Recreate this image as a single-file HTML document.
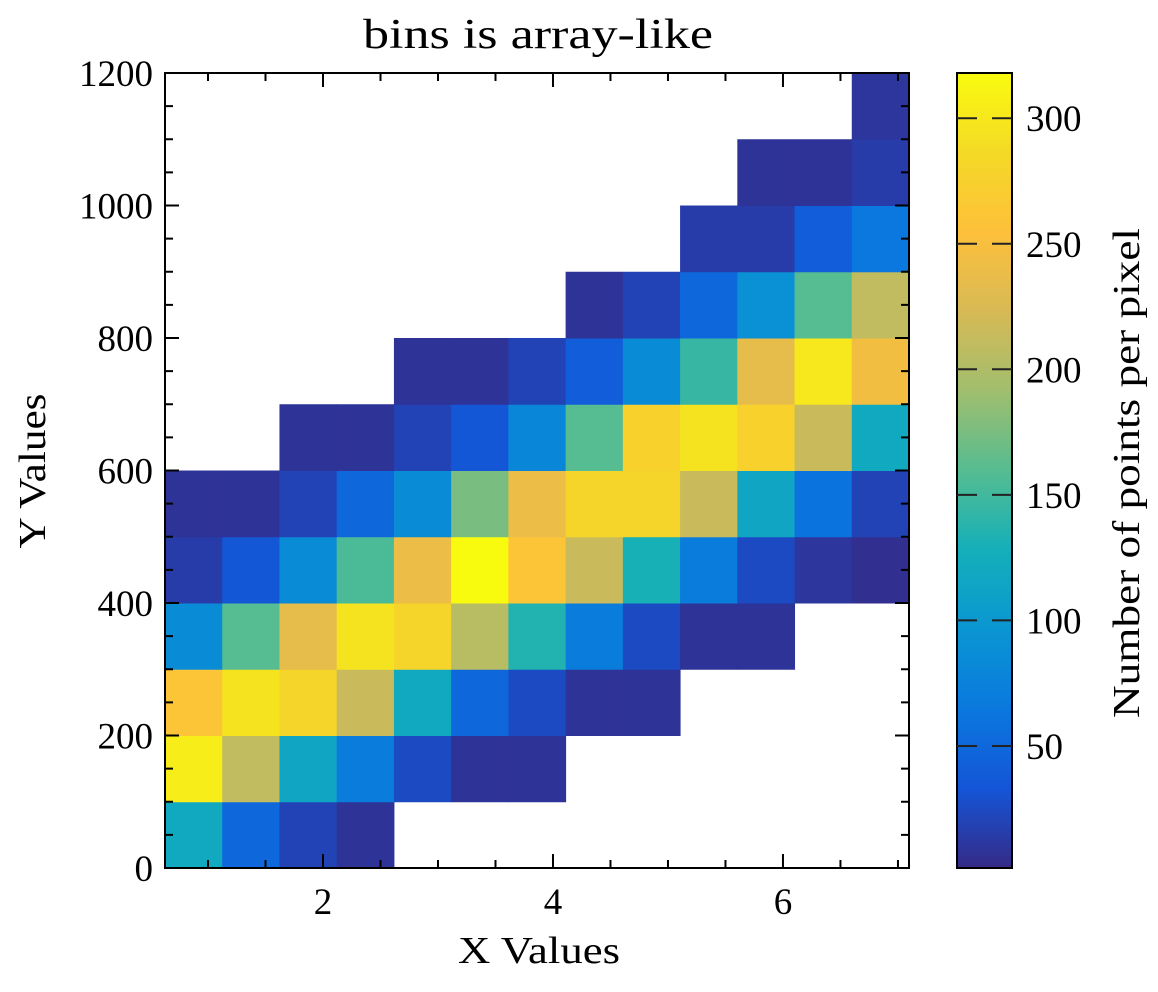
<!DOCTYPE html>
<html><head><meta charset="utf-8"><style>
html,body{margin:0;padding:0;background:#fff;}
svg text{font-family:"Liberation Serif","DejaVu Serif",serif;fill:#000;}
</style></head><body>
<svg id="chart" width="1158" height="987" xmlns="http://www.w3.org/2000/svg">
<defs><linearGradient id="cbg" x1="0" y1="1" x2="0" y2="0"></linearGradient></defs>
<text x="538" y="48" font-size="42" text-anchor="middle" textLength="350" lengthAdjust="spacingAndGlyphs">bins is array-like</text>
<g id="cells"></g>
<g id="axes"></g>
<g id="cbar"></g>
<text x="539" y="963" font-size="38" text-anchor="middle" textLength="162" lengthAdjust="spacingAndGlyphs">X Values</text>
<text x="0" y="0" font-size="38" text-anchor="middle" textLength="155" lengthAdjust="spacingAndGlyphs" transform="translate(45,471) rotate(-90)">Y Values</text>
<text x="0" y="0" font-size="38" text-anchor="middle" textLength="490" lengthAdjust="spacingAndGlyphs" transform="translate(1139,473) rotate(-90)">Number of points per pixel</text>
</svg>
<script>
const xEdgeMin = 0.626, xEdgeMax = 7.096, nCols = 13;
const yEdges = [0,100,200,300,400,500,600,700,800,900,1000,1100,1200];
const xTicks = [2,4,6];
const yTicks = [0,200,400,600,800,1000,1200];
const cbTicks = [50,100,150,200,250,300];
const cMin = 1.4, cMax = 318;
// counts[row][col], row 0 = bottom (0-100); null = empty
const row0 = [120,50,20,8,null,null,null,null,null,null,null,null,null];
const row1 = [305,210,115,70,25,8,8,null,null,null,null,null,null];
const row2 = [260,295,280,215,120,50,25,8,8,null,null,null,null];
const row3 = [85,160,235,295,280,205,135,70,25,8,8,null,null];
const row4 = [15,35,85,155,240,318,260,215,130,70,25,10,5];
const row5 = [8,8,20,50,85,175,240,280,280,215,115,60,20];
const row6 = [null,null,8,8,20,35,80,160,275,295,275,215,120];
const row7 = [null,null,null,null,8,8,20,40,85,145,235,300,245];
const row8 = [null,null,null,null,null,null,null,8,20,50,90,160,210];
const row9 = [null,null,null,null,null,null,null,null,null,15,15,40,65];
const row10 = [null,null,null,null,null,null,null,null,null,null,8,8,15];
const row11 = [null,null,null,null,null,null,null,null,null,null,null,null,10];
const counts = [row0,row1,row2,row3,row4,row5,row6,row7,row8,row9,row10,row11];

const L=165,R=909,T=73,B=868;
const xs = v => L + (v - xEdgeMin)/(xEdgeMax - xEdgeMin)*(R-L);
const ys = v => B - (v - 0)/(1200-0)*(B-T);
const parula = [[0,53,42,135],[0.1,20,85,215],[0.2,10,120,222],[0.3,10,150,210],[0.4,20,175,185],[0.5,85,188,145],[0.6,160,190,110],[0.7,215,186,85],[0.8,254,192,58],[0.9,244,218,38],[1,249,251,14]];
function cmap(t){t=Math.max(0,Math.min(1,t));for(let i=1;i<parula.length;i++){if(t<=parula[i][0]){const a=parula[i-1],b=parula[i];const f=(t-a[0])/(b[0]-a[0]);return `rgb(${Math.round(a[1]+f*(b[1]-a[1]))},${Math.round(a[2]+f*(b[2]-a[2]))},${Math.round(a[3]+f*(b[3]-a[3]))})`;}}return 'rgb(249,251,14)';}
const NS='http://www.w3.org/2000/svg';
function mk(tag,attrs,parent){const e=document.createElementNS(NS,tag);for(const k in attrs)e.setAttribute(k,attrs[k]);parent.appendChild(e);return e;}
const cells=document.getElementById('cells');
const bw=(xEdgeMax-xEdgeMin)/nCols;
counts.forEach((row,r)=>row.forEach((v,c)=>{if(v==null)return;
 const x0=xs(xEdgeMin+c*bw),x1=xs(xEdgeMin+(c+1)*bw),y0=ys(yEdges[r+1]),y1=ys(yEdges[r]);
 const e=mk('rect',{x:x0,y:y0,width:x1-x0+0.5,height:y1-y0+0.5,fill:cmap((v-cMin)/(cMax-cMin))},cells);
 
 
}));
const ax=document.getElementById('axes');
const frame=mk('rect',{x:L,y:T,width:R-L,height:B-T,fill:'none',stroke:'#000','stroke-width':2},ax);


function tick(x1,y1,x2,y2,w){mk('line',{x1,y1,x2,y2,stroke:'#000','stroke-width':w||2},ax);}
for(let v=1;v<=7;v+=0.5){const x=xs(v);const maj=xTicks.includes(v);const len=maj?14:8;tick(x,B,x,B-len);tick(x,T,x,T+len);}
xTicks.forEach(v=>{const t=mk('text',{x:xs(v),y:B+46,'font-size':37,'text-anchor':'middle'},ax);t.textContent=v;
 
 });
for(let v=0;v<=1200;v+=50){const y=ys(v);const maj=yTicks.includes(v);const len=maj?14:8;tick(L,y,L+len,y);tick(R,y,R-len,y);}
yTicks.forEach(v=>{const t=mk('text',{x:L-12,y:ys(v)+13,'font-size':37,'text-anchor':'end'},ax);t.textContent=v;
 
 });
// colorbar
const cb=document.getElementById('cbar');
const CL=957,CR=1012;
const cys=v=>B-(v-cMin)/(cMax-cMin)*(B-T);
const grad=document.getElementById('cbg');
for(let i=0;i<=20;i++){mk('stop',{offset:i/20,'stop-color':cmap(i/20)},grad);}
mk('rect',{x:CL,y:T,width:CR-CL,height:B-T,fill:'url(#cbg)',stroke:'#000','stroke-width':2},cb);
cbTicks.forEach(v=>{const y=cys(v);
 mk('line',{x1:CL,y1:y,x2:CL+20,y2:y,stroke:'#222','stroke-width':2},cb);
 mk('line',{x1:CR,y1:y,x2:CR-20,y2:y,stroke:'#222','stroke-width':2},cb);
 const t=mk('text',{x:CR+14,y:y+13,'font-size':37},cb);t.textContent=v;
 
 });
</script>
</body></html>
